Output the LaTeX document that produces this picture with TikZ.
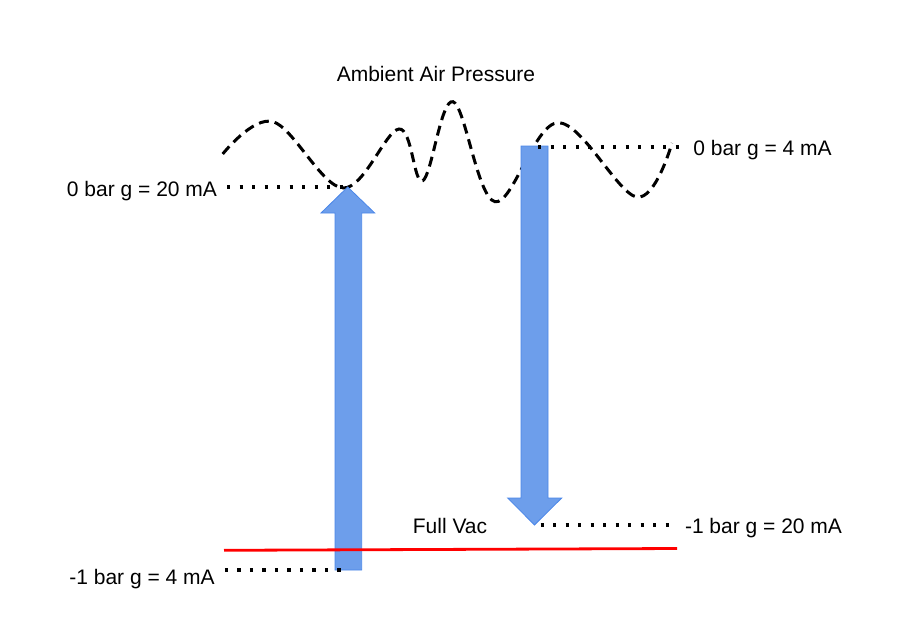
\documentclass[tikz,border=0pt]{standalone}
\usepackage{fontspec}
\setmainfont{Liberation Sans}
\definecolor{arrowblue}{HTML}{6D9EEB}
\definecolor{arrowedge}{HTML}{4A86E8}

\begin{document}
\begin{tikzpicture}[x=1pt,y=-1pt,
  lbl/.style={font=\fontsize{21}{24}\selectfont,inner sep=0pt,anchor=base},
  wave/.style={line width=3pt,dash pattern=on 10pt off 6pt},
  dotline/.style={line width=3.2pt,dash pattern=on 3.2pt off 9.3pt},
  bluearrow/.style={fill=arrowblue,draw=arrowedge,line width=0.8pt},
  vacline/.style={red,line width=2.8pt}]

\useasboundingbox (0,0) rectangle (902,638);

\draw[wave] plot[smooth,tension=0.6] coordinates {(222.7,154) (273,121.7) (343,188) (399,129) (422.7,180.7) (453,101.7) (495,201.7) (558,122.7) (636.7,197) (672,143)};

\coordinate (uptip) at (347.7,187);
\coordinate (upfoot) at (348,570);
\coordinate (dntop) at (538,147);
\coordinate (dntip) at (534.5,525);
\coordinate (vacL) at (224,550.3);
\coordinate (vacR) at (677,548.5);

\draw[bluearrow] (335,570) -- (335,213) -- (321,213) -- (uptip) -- (374.7,213) -- (361.7,213) -- (361.7,570) -- cycle;
\draw[bluearrow] (521,146) -- (521,498) -- (507.7,498) -- (dntip) -- (561.7,498) -- (548,498) -- (548,146) -- cycle;

\draw[vacline] (vacL) -- (vacR);

\node[lbl](ambient) at (436,81){Ambient Air Pressure};
\node[lbl](zero20) at (142,196){0 bar g = 20 mA};
\node[lbl](zero4) at (762.5,155){0 bar g = 4 mA};
\node[lbl](vac20) at (763.5,533){-1 bar g = 20 mA};
\node[lbl](fullvac) at (450,533){Full Vac};
\node[lbl](vac4) at (142,584){-1 bar g = 4 mA};

\draw[dotline] ([xshift=10pt]zero20.east |- uptip) -- (uptip);
\draw[dotline] (dntop) -- ([xshift=-9pt]zero4.west |- dntop);
\draw[dotline] ([xshift=6pt]dntip) -- ([xshift=-9pt]vac20.west |- dntip);
\draw[dotline] ([xshift=10pt]vac4.east |- upfoot) -- (upfoot);

\end{tikzpicture}
\end{document}
